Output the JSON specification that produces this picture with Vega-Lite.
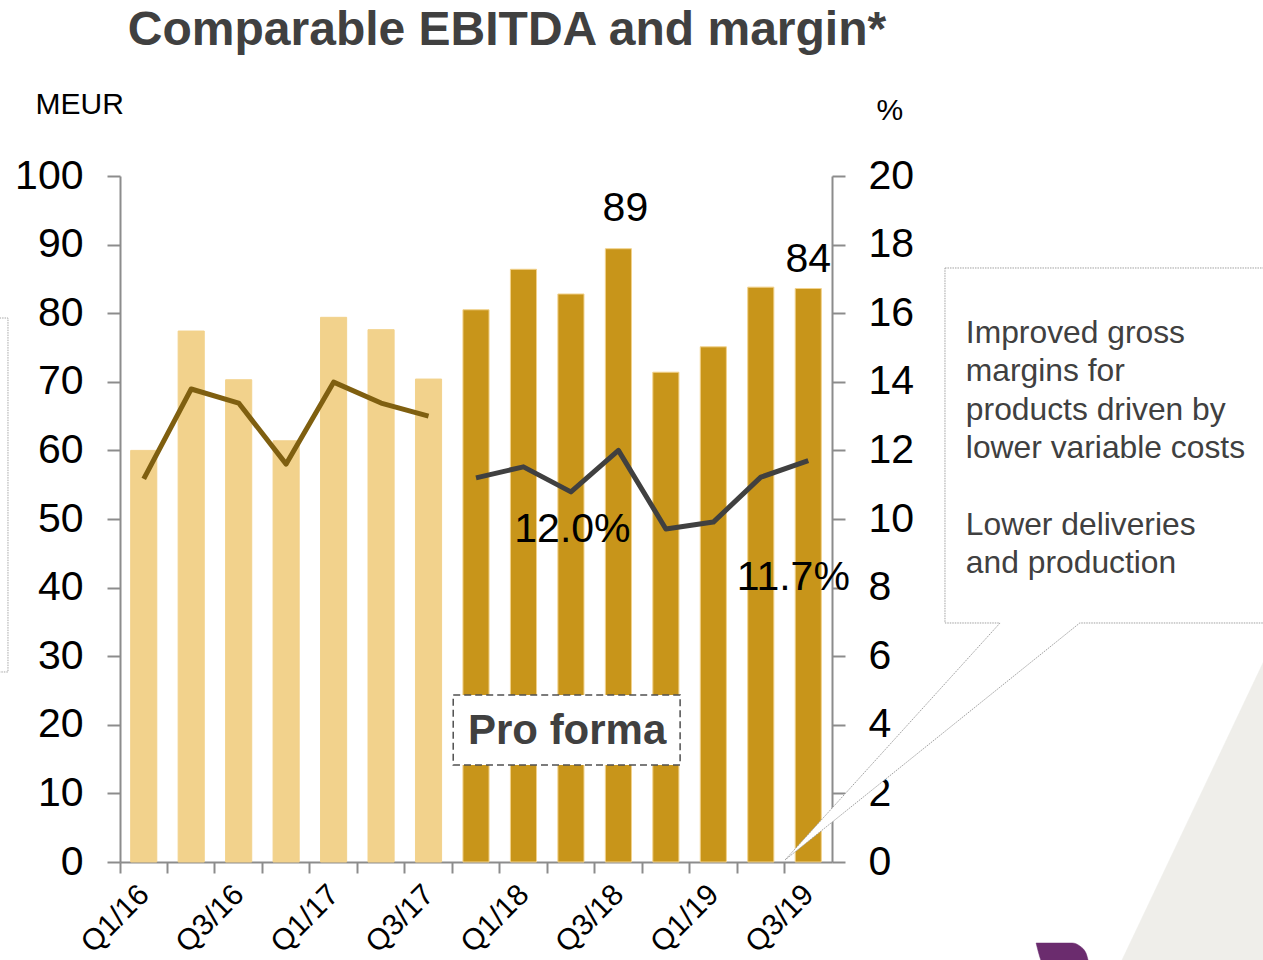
{
  "$schema": "https://vega.github.io/schema/vega-lite/v6.json",
  "width": 712,
  "height": 686,
  "autosize": "none",
  "padding": {"left": 120, "top": 176, "right": 431, "bottom": 98},
  "config": {"font": "Liberation Sans", "view": {"stroke": null}},
  "title": {
    "text": "Comparable EBITDA and margin*",
    "fontSize": 48,
    "fontWeight": "bold",
    "color": "#404040",
    "anchor": "middle",
    "frame": "group",
    "dx": 31,
    "offset": -4,
    "baseline": "alphabetic"
  },
  "datasets": {
    "quarters": [
      {"quarter": "Q1/16", "basis": "Reported", "ebitda": 60.0, "margin": 11.17},
      {"quarter": "Q2/16", "basis": "Reported", "ebitda": 77.4, "margin": 13.79},
      {"quarter": "Q3/16", "basis": "Reported", "ebitda": 70.3, "margin": 13.38},
      {"quarter": "Q4/16", "basis": "Reported", "ebitda": 61.4, "margin": 11.6},
      {"quarter": "Q1/17", "basis": "Reported", "ebitda": 79.4, "margin": 13.99},
      {"quarter": "Q2/17", "basis": "Reported", "ebitda": 77.6, "margin": 13.38},
      {"quarter": "Q3/17", "basis": "Reported", "ebitda": 70.4, "margin": 13.0},
      {"quarter": "Q4/17", "basis": "Pro forma", "ebitda": 80.5, "margin": 11.2},
      {"quarter": "Q1/18", "basis": "Pro forma", "ebitda": 86.4, "margin": 11.52},
      {"quarter": "Q2/18", "basis": "Pro forma", "ebitda": 82.8, "margin": 10.79},
      {"quarter": "Q3/18", "basis": "Pro forma", "ebitda": 89.4, "margin": 12.0, "marginLabel": "12.0%"},
      {"quarter": "Q4/18", "basis": "Pro forma", "ebitda": 71.4, "margin": 9.71},
      {"quarter": "Q1/19", "basis": "Pro forma", "ebitda": 75.1, "margin": 9.91},
      {"quarter": "Q2/19", "basis": "Pro forma", "ebitda": 83.8, "margin": 11.22},
      {"quarter": "Q3/19", "basis": "Pro forma", "ebitda": 83.6, "margin": 11.7, "marginLabel": "11.7%"}
    ],
    "callout": [
      {"ord": 1, "qx": 16.88, "qy": 86.59},
      {"ord": 2, "qx": 23.73, "qy": 86.59},
      {"ord": 3, "qx": 23.73, "qy": 34.84},
      {"ord": 4, "qx": 19.72, "qy": 34.84},
      {"ord": 5, "qx": 13.51, "qy": 0.29},
      {"ord": 6, "qx": 18.04, "qy": 34.84},
      {"ord": 7, "qx": 16.88, "qy": 34.84},
      {"ord": 8, "qx": 16.88, "qy": 86.59}
    ],
    "leftbox": [
      {"ord": 1, "qx": -3.3, "qy": 79.3},
      {"ord": 2, "qx": -2.86, "qy": 79.3},
      {"ord": 3, "qx": -2.86, "qy": 27.7},
      {"ord": 4, "qx": -3.3, "qy": 27.7}
    ],
    "triangle": [
      {"ord": 1, "qx": 20.46, "qy": -16.47},
      {"ord": 2, "qx": 24.49, "qy": 42.3},
      {"ord": 3, "qx": 24.49, "qy": -16.47},
      {"ord": 4, "qx": 20.46, "qy": -16.47}
    ],
    "purple": [
      {"ord": 1, "qx": 18.8, "qy": -11.81},
      {"ord": 2, "qx": 19.56, "qy": -11.81},
      {"ord": 3, "qx": 19.72, "qy": -12.24},
      {"ord": 4, "qx": 19.85, "qy": -13.27},
      {"ord": 5, "qx": 19.94, "qy": -15.01},
      {"ord": 6, "qx": 18.97, "qy": -15.01},
      {"ord": 7, "qx": 18.8, "qy": -11.81}
    ],
    "proforma": [
      {"qx": 6.52, "qx2": 11.3, "qy": 24.34, "qy2": 14.14, "cx": 8.92, "cy": 19.1, "label": "Pro forma"}
    ],
    "notes": [
      {"qx": 17.32, "qy": 75.66, "text": "Improved gross\nmargins for\nproducts driven by\nlower variable costs"},
      {"qx": 17.32, "qy": 47.67, "text": "Lower deliveries\nand production"}
    ]
  },
  "layer": [
    {
      "data": {"name": "quarters"},
      "layer": [
        {
          "encoding": {
            "x": {
              "field": "quarter",
              "type": "nominal",
              "sort": null,
              "scale": {"paddingInner": 0.45, "paddingOuter": 0.225},
              "axis": {
                "orient": "bottom",
                "title": null,
                "bandPosition": -0.409,
                "tickSize": 11,
                "tickWidth": 2,
                "tickColor": "#8c8c8c",
                "domainColor": "#8c8c8c",
                "domainWidth": 2,
                "labelAngle": -45,
                "labelAlign": "right",
                "labelBaseline": "top",
                "labelFontSize": 30,
                "labelPadding": 6,
                "labelOffset": -10,
                "labelColor": "#000000",
                "labelOverlap": false,
                "labelBound": false,
                "labelExpr": "indexof(datum.label, 'Q1') === 0 || indexof(datum.label, 'Q3') === 0 ? datum.label : ''"
              }
            },
            "y": {
              "field": "ebitda",
              "type": "quantitative",
              "scale": {"domain": [0, 100], "nice": false},
              "axis": {
                "orient": "left",
                "values": [0, 10, 20, 30, 40, 50, 60, 70, 80, 90, 100],
                "grid": false,
                "title": "MEUR",
                "titleAngle": 0,
                "titleAlign": "left",
                "titleBaseline": "alphabetic",
                "titleX": -85,
                "titleY": -63,
                "titleFontSize": 30,
                "titleFontWeight": "normal",
                "titleColor": "#000000",
                "labelFontSize": 41,
                "labelColor": "#000000",
                "labelPadding": 24,
                "tickSize": 13,
                "tickWidth": 2,
                "tickColor": "#8c8c8c",
                "domainColor": "#8c8c8c",
                "domainWidth": 2
              }
            }
          },
          "layer": [
            {
              "mark": {"type": "bar", "stroke": "#F2D28C", "strokeWidth": 1},
              "encoding": {
                "color": {
                  "field": "basis",
                  "type": "nominal",
                  "scale": {"domain": ["Reported", "Pro forma"], "range": ["#F2D28C", "#C8951A"]},
                  "legend": null
                }
              }
            },
            {
              "transform": [{"filter": "datum.quarter === 'Q3/18'"}],
              "mark": {"type": "text", "fontSize": 41, "color": "#000000", "baseline": "middle", "align": "center", "dx": 7, "dy": -40},
              "encoding": {"text": {"field": "ebitda", "type": "quantitative", "format": ".0f"}}
            },
            {
              "transform": [{"filter": "datum.quarter === 'Q3/19'"}],
              "mark": {"type": "text", "fontSize": 41, "color": "#000000", "baseline": "middle", "align": "center", "dx": 0, "dy": -29},
              "encoding": {"text": {"field": "ebitda", "type": "quantitative", "format": ".0f"}}
            }
          ]
        },
        {
          "encoding": {
            "x": {"field": "quarter", "type": "nominal", "sort": null},
            "y": {
              "field": "margin",
              "type": "quantitative",
              "scale": {"domain": [0, 20], "nice": false},
              "axis": {
                "orient": "right",
                "values": [0, 2, 4, 6, 8, 10, 12, 14, 16, 18, 20],
                "grid": false,
                "title": "%",
                "titleAngle": 0,
                "titleAlign": "left",
                "titleBaseline": "alphabetic",
                "titleX": 44,
                "titleY": -57,
                "titleFontSize": 30,
                "titleFontWeight": "normal",
                "titleColor": "#000000",
                "labelFontSize": 41,
                "labelColor": "#000000",
                "labelPadding": 23,
                "tickSize": 13,
                "tickWidth": 2,
                "tickColor": "#8c8c8c",
                "domainColor": "#8c8c8c",
                "domainWidth": 2
              }
            }
          },
          "layer": [
            {
              "mark": {"type": "line", "strokeWidth": 5, "strokeJoin": "round"},
              "encoding": {
                "color": {
                  "field": "basis",
                  "type": "nominal",
                  "scale": {"domain": ["Reported", "Pro forma"], "range": ["#7F5F10", "#404040"]},
                  "legend": null
                }
              }
            },
            {
              "transform": [{"filter": "datum.quarter === 'Q3/18'"}],
              "mark": {"type": "text", "fontSize": 41, "color": "#000000", "baseline": "middle", "align": "center", "dx": -46, "dy": 80},
              "encoding": {"text": {"field": "marginLabel", "type": "nominal"}}
            },
            {
              "transform": [{"filter": "datum.quarter === 'Q3/19'"}],
              "mark": {"type": "text", "fontSize": 41, "color": "#000000", "baseline": "middle", "align": "center", "dx": -15, "dy": 117},
              "encoding": {"text": {"field": "marginLabel", "type": "nominal"}}
            }
          ]
        }
      ],
      "resolve": {"scale": {"y": "independent", "color": "independent"}}
    },
    {
      "layer": [
        {
          "data": {"name": "triangle"},
          "mark": {"type": "line", "fill": "#EFEEEA", "stroke": "#EFEEEA", "strokeWidth": 0.5},
          "encoding": {
            "x": {"field": "qx", "type": "quantitative", "scale": {"domain": [-0.5, 14.5], "nice": false, "zero": false}, "axis": null},
            "y": {"field": "qy", "type": "quantitative", "scale": {"domain": [0, 100], "nice": false, "zero": false}, "axis": null},
            "order": {"field": "ord", "type": "quantitative"}
          }
        },
        {
          "data": {"name": "purple"},
          "mark": {"type": "line", "fill": "#6B2C6E", "stroke": "#6B2C6E", "strokeWidth": 0.5, "interpolate": "monotone"},
          "encoding": {
            "x": {"field": "qx", "type": "quantitative", "axis": null},
            "y": {"field": "qy", "type": "quantitative", "axis": null},
            "order": {"field": "ord", "type": "quantitative"}
          }
        },
        {
          "data": {"name": "leftbox"},
          "mark": {"type": "line", "stroke": "#A6A6A6", "strokeWidth": 1, "strokeDash": [1.5, 1]},
          "encoding": {
            "x": {"field": "qx", "type": "quantitative", "axis": null},
            "y": {"field": "qy", "type": "quantitative", "axis": null},
            "order": {"field": "ord", "type": "quantitative"}
          }
        },
        {
          "data": {"name": "callout"},
          "mark": {"type": "line", "fill": "#FFFFFF", "stroke": "#A0A0A0", "strokeWidth": 1, "strokeDash": [1.5, 1]},
          "encoding": {
            "x": {"field": "qx", "type": "quantitative", "axis": null},
            "y": {"field": "qy", "type": "quantitative", "axis": null},
            "order": {"field": "ord", "type": "quantitative"}
          }
        },
        {
          "data": {"name": "proforma"},
          "mark": {"type": "rect", "fill": "#FFFFFF", "stroke": "#505050", "strokeWidth": 1.5, "strokeDash": [7, 4]},
          "encoding": {
            "x": {"field": "qx", "type": "quantitative", "axis": null},
            "x2": {"field": "qx2"},
            "y": {"field": "qy", "type": "quantitative", "axis": null},
            "y2": {"field": "qy2"}
          }
        },
        {
          "data": {"name": "proforma"},
          "mark": {"type": "text", "fontSize": 42, "fontWeight": "bold", "color": "#404040", "align": "center", "baseline": "middle"},
          "encoding": {
            "x": {"field": "cx", "type": "quantitative", "axis": null},
            "y": {"field": "cy", "type": "quantitative", "axis": null},
            "text": {"field": "label", "type": "nominal"}
          }
        },
        {
          "data": {"name": "notes"},
          "mark": {"type": "text", "fontSize": 31.8, "color": "#404040", "align": "left", "baseline": "alphabetic", "lineBreak": "\n", "lineHeight": 38.3},
          "encoding": {
            "x": {"field": "qx", "type": "quantitative", "axis": null},
            "y": {"field": "qy", "type": "quantitative", "axis": null},
            "text": {"field": "text", "type": "nominal"}
          }
        }
      ]
    }
  ],
  "resolve": {"scale": {"x": "independent", "y": "independent"}}
}
